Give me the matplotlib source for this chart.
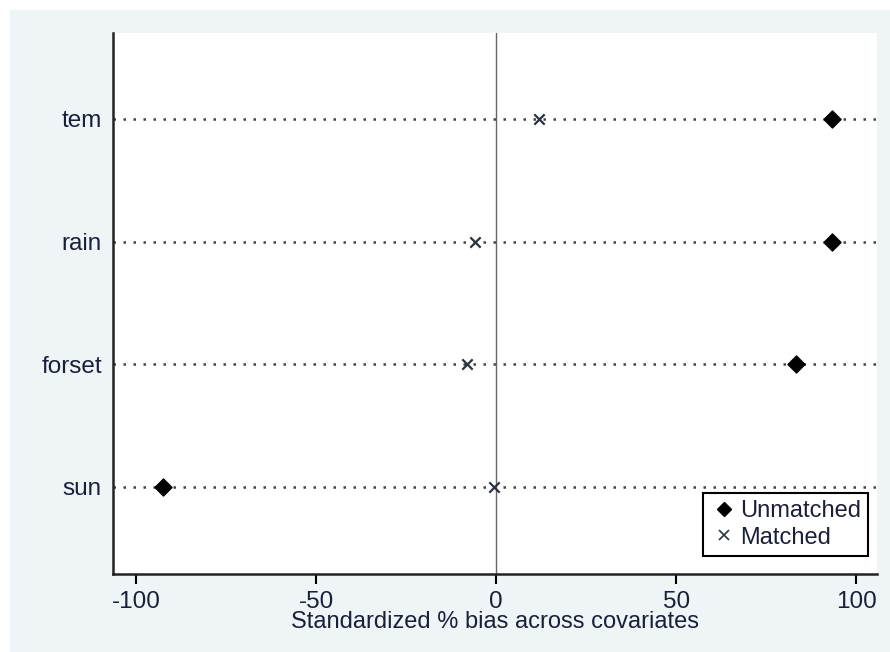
import matplotlib
matplotlib.use("Agg")
import matplotlib.pyplot as plt
from matplotlib.patches import Rectangle
from matplotlib.lines import Line2D

# --- Data ---
covariates = ["sun", "forset", "rain", "tem"]
unmatched = [-92.5, 83.3, 93.3, 93.3]
matched = [-0.6, -8.1, -5.8, 11.9]

plt.rcParams["font.family"] = ["Liberation Sans", "DejaVu Sans"]
plt.rcParams["axes.unicode_minus"] = False

W, H = 890, 652
fig = plt.figure(figsize=(W / 100, H / 100), dpi=100, facecolor="white")

# light backdrop behind the plot region
fig.patches.append(Rectangle((10 / W, 0), 1 - 10 / W, 1 - 10 / H,
                             transform=fig.transFigure, facecolor="#eff5f7",
                             edgecolor="none", zorder=-5))

ax = fig.add_axes([113 / W, 1 - 574 / H, (877 - 113) / W, (574 - 33) / H])
ax.set_zorder(2)
ax.set_facecolor("white")

ypos = list(range(1, len(covariates) + 1))

# dotted guide line for each covariate
for y in ypos:
    ax.axhline(y, color="#444444", lw=1.8, ls=(0, (1, 3)), zorder=1)

ax.axvline(0, color="#666666", lw=1.0, zorder=1)

ax.scatter(unmatched, ypos, marker="D", s=75, color="black", zorder=3,
           label="Unmatched")
ax.scatter(matched, ypos, marker="x", s=55, color="#2b3340", linewidths=1.6,
           zorder=3, label="Matched")

ax.set_xlim(-106.4, 105.8)
ax.set_ylim(0.29, 4.70)
ax.set_xticks([-100, -50, 0, 50, 100])
ax.set_yticks(ypos)
ax.set_yticklabels(covariates)

for side in ["top", "right"]:
    ax.spines[side].set_visible(False)
for side in ["left", "bottom"]:
    ax.spines[side].set_linewidth(1.8)
    ax.spines[side].set_color("#222222")

ax.tick_params(axis="x", direction="out", length=7, width=1.5,
               labelsize=17.5, labelcolor="#1a1f3a", pad=5)
ax.tick_params(axis="y", length=0, labelsize=17.5, labelcolor="#1a1f3a",
               pad=8)

ax.set_xlabel("Standardized % bias across covariates", fontsize=17,
              color="#1a1f3a", labelpad=-1)

handles = [
    Line2D([], [], marker="D", color="black", ls="none", markersize=7),
    Line2D([], [], marker="x", color="#2b3340", ls="none", markersize=7,
           markeredgewidth=1.2),
]
leg = ax.legend(handles, ["Unmatched", "Matched"], loc="lower right",
                bbox_to_anchor=(0.995, 0.025), fontsize=17, frameon=True,
                fancybox=False, edgecolor="black", handletextpad=0.1,
                handlelength=1.2, borderpad=0.3, labelspacing=0.2,
                borderaxespad=0.2, labelcolor="#1a1f3a")
leg.get_frame().set_linewidth(1.5)
leg.get_frame().set_alpha(1)

fig.savefig("out.png", dpi=100, facecolor=fig.get_facecolor())
